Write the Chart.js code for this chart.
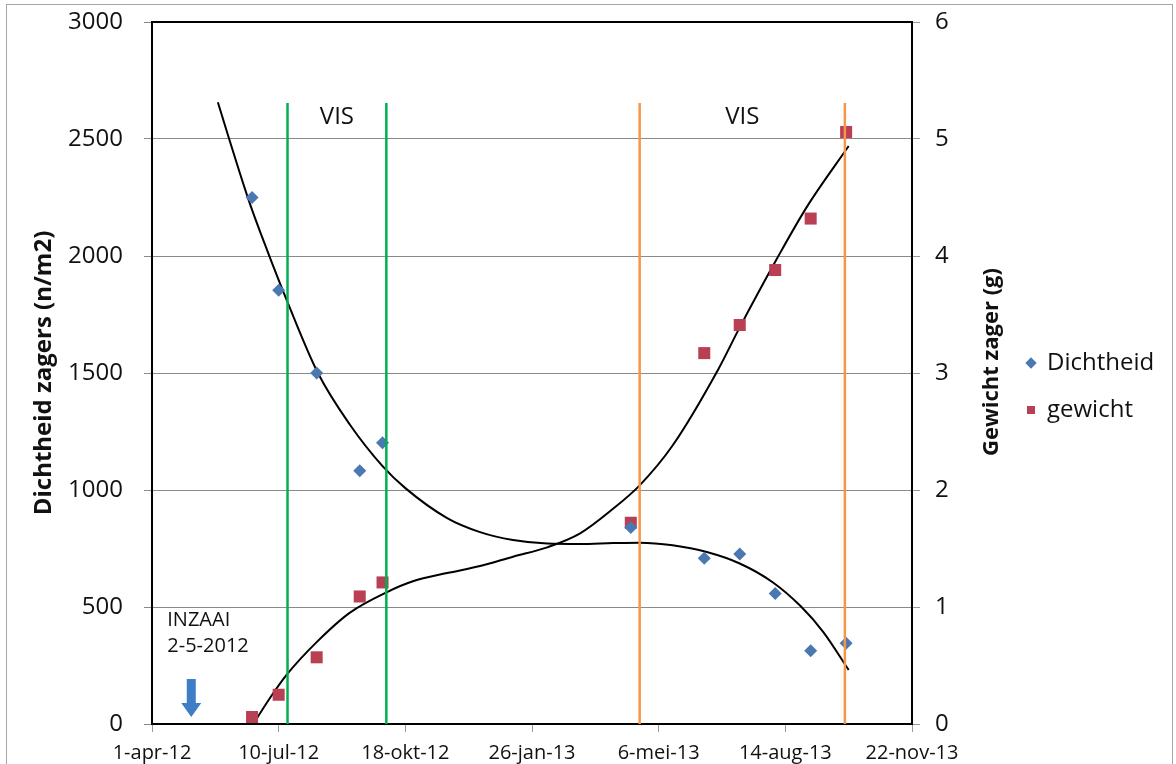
<!DOCTYPE html>
<html>
<head>
<meta charset="utf-8">
<title>Dichtheid en gewicht zagers</title>
<script src="https://cdn.jsdelivr.net/npm/chart.js@4/dist/chart.umd.min.js"></script>
<style>
  html, body { margin: 0; background: #fff; }
  #wrap { position: relative; width: 1176px; height: 764px; overflow: hidden; }
  #frame { position: absolute; left: 6px; top: 4px; width: 1165px; height: 820px; border: 1px solid #a6a6a6; }
  canvas { position: absolute; left: 0; top: 0; }
</style>
</head>
<body>
<div id="wrap">
  <div id="frame"></div>
  <canvas id="zagers" width="1176" height="764"></canvas>
</div>
<script>
/* ========= Data ========= */
const START = '2012-04-01';
const xTickLabels = ['1-apr-12', '10-jul-12', '18-okt-12', '26-jan-13', '6-mei-13', '14-aug-13', '22-nov-13'];

const sampleDates = ['2012-06-19', '2012-07-10', '2012-08-09', '2012-09-12', '2012-09-30',
                     '2013-04-14', '2013-06-11', '2013-07-09', '2013-08-06', '2013-09-03', '2013-10-01'];
const dichtheid   = [2250, 1854, 1500, 1082, 1202, 840, 708, 726, 558, 313, 345];   // n/m2
const gewicht     = [0.06, 0.25, 0.57, 1.09, 1.21, 1.72, 3.17, 3.41, 3.88, 4.32, 5.06]; // g

// trend lines, x in days since 1-apr-12
const dichtTrendDays = [52, 60, 77, 91, 107, 131, 156, 182, 200, 233, 259, 285, 312, 338, 364, 385, 411, 438, 464, 490, 512, 530, 550];
const dichtTrend     = [2657, 2516, 2228, 2023, 1803, 1500, 1281, 1102, 1008, 880, 820, 786, 771, 769, 773, 775, 764, 735, 686, 606, 504, 393, 231];
const gewTrendDays   = [80, 93, 107, 130, 156, 186, 206, 233, 259, 285, 312, 338, 364, 385, 411, 447, 464, 493, 517, 550];
const gewTrend       = [0, 0.22, 0.43, 0.70, 0.95, 1.13, 1.22, 1.29, 1.35, 1.43, 1.51, 1.63, 1.84, 2.04, 2.38, 3.03, 3.39, 3.97, 4.42, 4.94];

// fish periods (VIS), start/end pairs
const visDates  = ['2012-07-17', '2012-10-03', '2013-04-21', '2013-09-30'];
const visColors = ['#00b050', '#00b050', '#f79646', '#f79646'];
const visTop    = 2654;
const inzaaiDate = '2012-05-02';

/* ========= Helpers ========= */
const day = s => (Date.parse(s) - Date.parse(START)) / 864e5;
const pts = (xs, ys) => xs.map((v, i) => ({ x: v, y: ys[i] }));

const FONT = "'Open Sans', sans-serif";
Chart.defaults.font.family = FONT;
Chart.defaults.color = '#111';

const visSets = visDates.map((d, i) => ({
  label: '',
  data: [{ x: day(d), y: 0 }, { x: day(d), y: visTop }],
  showLine: true,
  borderColor: visColors[i],
  borderWidth: 2.5,
  pointRadius: 0,
  yAxisID: 'y'
}));

const trendSet = (xs, ys, axis) => ({
  label: '',
  data: pts(xs, ys),
  showLine: true,
  cubicInterpolationMode: 'monotone',
  borderColor: '#000',
  borderWidth: 2,
  pointRadius: 0,
  yAxisID: axis
});

// pin the y axes: fixed width, and only 22px room above the plot
const pinY = w => s => {
  s.width = w;
  s.paddingTop = 22;
  s.paddingBottom = 0;
};

/* ========= Extra drawing: box, labels, arrow, right title ========= */
const extras = {
  id: 'extras',
  beforeDatasetsDraw(chart) {
    const { ctx, chartArea: a } = chart;
    ctx.save();
    ctx.strokeStyle = '#000';
    ctx.lineWidth = 2;
    ctx.strokeRect(a.left, a.top, a.right - a.left, a.bottom - a.top);
    ctx.restore();
  },
  afterDatasetsDraw(chart) {
    const { ctx, chartArea: a, scales: { x, y } } = chart;
    ctx.save();
    ctx.fillStyle = '#111';
    ctx.textBaseline = 'middle';

    ctx.font = `24px ${FONT}`;
    ctx.textAlign = 'center';
    for (let i = 0; i < visDates.length; i += 2) {
      const mid = (x.getPixelForValue(day(visDates[i])) + x.getPixelForValue(day(visDates[i + 1]))) / 2;
      ctx.fillText('VIS', mid, y.getPixelForValue(2592));
    }

    const ax = x.getPixelForValue(day(inzaaiDate));
    ctx.font = `20px ${FONT}`;
    ctx.textAlign = 'left';
    ctx.fillText('INZAAI', ax - 24, y.getPixelForValue(442));
    ctx.fillText('2-5-2012', ax - 24, y.getPixelForValue(333));

    // sowing arrow
    const yTop = y.getPixelForValue(192), yHead = y.getPixelForValue(90), yTip = y.getPixelForValue(30);
    ctx.fillStyle = '#3e7ec6';
    ctx.beginPath();
    ctx.moveTo(ax - 4.5, yTop);
    ctx.lineTo(ax + 4.5, yTop);
    ctx.lineTo(ax + 4.5, yHead);
    ctx.lineTo(ax + 10, yHead);
    ctx.lineTo(ax, yTip);
    ctx.lineTo(ax - 10, yHead);
    ctx.lineTo(ax - 4.5, yHead);
    ctx.closePath();
    ctx.fill();

    // right axis title, reading bottom to top
    ctx.fillStyle = '#111';
    ctx.font = `bold 22px ${FONT}`;
    ctx.textAlign = 'center';
    ctx.translate(a.right + 80, (a.top + a.bottom) / 2 - 11);
    ctx.rotate(-Math.PI / 2);
    ctx.fillText('Gewicht zager (g)', 0, 0);
    ctx.restore();
  }
};

/* ========= Chart ========= */
new Chart(document.getElementById('zagers'), {
  type: 'scatter',
  data: {
    datasets: [
      ...visSets,
      {
        label: 'Dichtheid',
        data: pts(sampleDates.map(day), dichtheid),
        pointStyle: 'rectRot',
        pointRadius: 6.5,
        backgroundColor: '#4a78b2',
        borderWidth: 0,
        yAxisID: 'y'
      },
      {
        label: 'gewicht',
        data: pts(sampleDates.map(day), gewicht),
        pointStyle: 'rect',
        pointRadius: 8.5,
        backgroundColor: '#b93f52',
        borderWidth: 0,
        yAxisID: 'y2'
      },
      trendSet(dichtTrendDays, dichtTrend, 'y'),
      trendSet(gewTrendDays, gewTrend, 'y2')
    ]
  },
  options: {
    responsive: false,
    animation: false,
    layout: { padding: { top: 9, right: 22, bottom: 0, left: 0 } },
    plugins: {
      tooltip: { enabled: false },
      legend: {
        position: 'right',
        maxWidth: 150,
        labels: {
          filter: item => !!item.text,
          usePointStyle: true,
          boxWidth: 8,
          boxHeight: 8,
          padding: 23,
          font: { size: 24 }
        }
      }
    },
    scales: {
      x: {
        type: 'linear',
        min: 0,
        max: 600,
        afterFit: s => { s.height = 40; },
        border: { display: false },
        grid: { drawOnChartArea: false, color: '#9a9a9a', tickLength: 8 },
        ticks: {
          stepSize: 100,
          padding: 9,
          maxRotation: 0,
          font: { size: 20 },
          callback: v => xTickLabels[Math.round(v / 100)]
        }
      },
      y: {
        position: 'left',
        min: 0,
        max: 3000,
        afterFit: pinY(152),
        border: { display: false },
        grid: { color: '#8a8a8a', lineWidth: 1, tickLength: 8 },
        ticks: { stepSize: 500, padding: 21, font: { size: 24 }, callback: v => String(v) },
        title: {
          display: true,
          text: 'Dichtheid zagers (n/m2)',
          font: { size: 24, weight: 'bold' },
          padding: { top: 30, bottom: 0 }
        }
      },
      y2: {
        position: 'right',
        min: 0,
        max: 6,
        afterFit: pinY(92),
        border: { display: false },
        grid: { drawOnChartArea: false, color: '#9a9a9a', tickLength: 8 },
        ticks: { stepSize: 1, padding: 15, font: { size: 24 }, callback: v => String(v) }
      }
    }
  },
  plugins: [extras]
});
</script>
</body>
</html>
